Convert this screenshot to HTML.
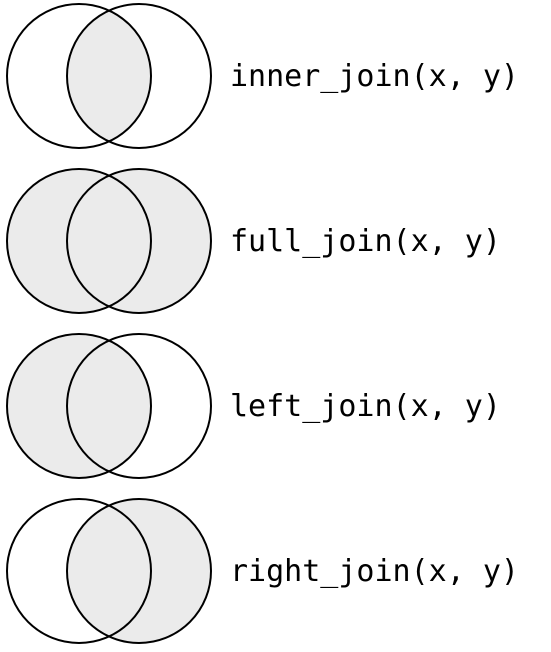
<!DOCTYPE html>
<html><head><style>body{margin:0;background:#fff}</style></head><body>
<svg width="551" height="647" viewBox="0 0 551 647" xmlns="http://www.w3.org/2000/svg">
<defs>
<clipPath id="cl"><circle cx="79" cy="0" r="72"/></clipPath>
</defs>
<g font-family="DejaVu Sans Mono, Liberation Mono, monospace" font-size="30" fill="#000">
<g transform="translate(0,76)">
<circle cx="139" cy="0" r="72" fill="#ebebeb" clip-path="url(#cl)"/>
<circle cx="79" cy="0" r="72" fill="none" stroke="#000" stroke-width="2"/>
<circle cx="139" cy="0" r="72" fill="none" stroke="#000" stroke-width="2"/>
<text x="230" y="10">inner_join(x, y)</text>
</g>
<g transform="translate(0,241)">
<circle cx="79" cy="0" r="72" fill="#ebebeb"/>
<circle cx="139" cy="0" r="72" fill="#ebebeb"/>
<circle cx="79" cy="0" r="72" fill="none" stroke="#000" stroke-width="2"/>
<circle cx="139" cy="0" r="72" fill="none" stroke="#000" stroke-width="2"/>
<text x="230" y="10">full_join(x, y)</text>
</g>
<g transform="translate(0,406)">
<circle cx="79" cy="0" r="72" fill="#ebebeb"/>
<circle cx="79" cy="0" r="72" fill="none" stroke="#000" stroke-width="2"/>
<circle cx="139" cy="0" r="72" fill="none" stroke="#000" stroke-width="2"/>
<text x="230" y="10">left_join(x, y)</text>
</g>
<g transform="translate(0,571)">
<circle cx="139" cy="0" r="72" fill="#ebebeb"/>
<circle cx="79" cy="0" r="72" fill="none" stroke="#000" stroke-width="2"/>
<circle cx="139" cy="0" r="72" fill="none" stroke="#000" stroke-width="2"/>
<text x="230" y="10">right_join(x, y)</text>
</g>
</g>
</svg>
</body></html>
